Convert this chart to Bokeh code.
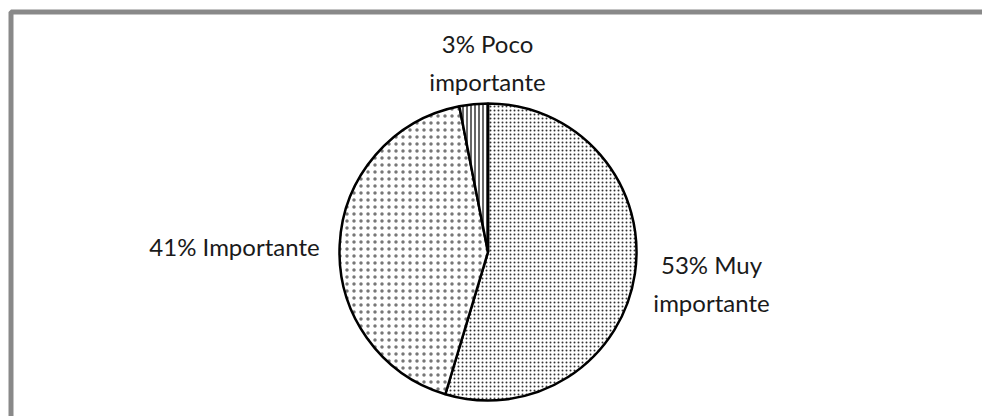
import math
from bokeh.plotting import figure
from bokeh.models import Range1d, ColumnDataSource
from bokeh.core.properties import value
from bokeh.embed import file_html
from bokeh.resources import INLINE

# ---- data ----
categories = ["Muy importante", "Importante", "Poco importante"]
percents = [53, 41, 3]
labels = ["53% Muy\nimportante", "41% Importante", "3% Poco\nimportante"]

# ---- layout ----
W, H = 982, 416
cx, cy_px, R = 487.5, 251.5, 148.5
cy = H - cy_px
label_px = [(711, 283), (234, 246), (487, 62)]
hatches = [".", ".", "|"]
hatch_scales = [4, 7, 4]
hatch_colors = ["#333333", "#777777", "#333333"]

total = sum(percents)
starts, ends = [], []
acc = 0.0
for v in percents:
    a0 = math.pi / 2 - 2 * math.pi * acc / total
    acc += v
    a1 = math.pi / 2 - 2 * math.pi * acc / total
    starts.append(a0)
    ends.append(a1)

p = figure(width=W, height=H, output_backend="svg", toolbar_location=None,
           x_range=Range1d(0, W), y_range=Range1d(0, H), min_border=0)
p.axis.visible = False
p.grid.visible = False
p.outline_line_color = None
p.background_fill_color = "white"

# outer frame
p.quad(left=10.5, right=W + 20, top=H - 11.5, bottom=-20,
       fill_color=None, line_color="#898989", line_width=5)

src = ColumnDataSource(dict(
    cat=categories, start=starts, end=ends,
    hatch=hatches, hscale=hatch_scales, hcolor=hatch_colors,
))
p.wedge(x=cx, y=cy, radius=R, start_angle="start", end_angle="end",
        direction="clock", source=src,
        fill_color="white", line_color="black", line_width=2.5,
        hatch_pattern="hatch", hatch_scale="hscale", hatch_color="hcolor",
        hatch_weight=1.5)

lsrc = ColumnDataSource(dict(
    x=[q[0] for q in label_px], y=[H - q[1] for q in label_px], text=labels))
p.text(x="x", y="y", text="text", source=lsrc, text_align="center",
       text_baseline="middle", text_font=value("Lato"), text_font_size="24px",
       text_color="#1a1a1a", text_line_height=1.3)

open("out.html", "w").write(file_html(p, INLINE))
